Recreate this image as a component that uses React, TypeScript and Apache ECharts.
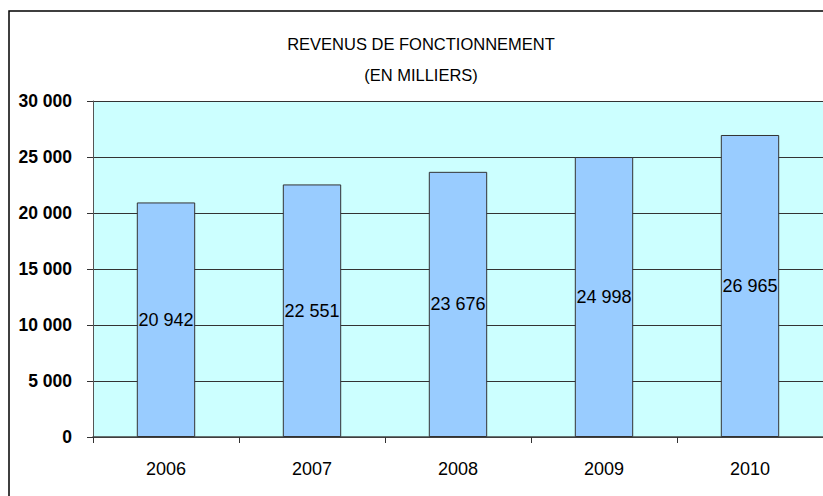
import React, { useEffect, useRef } from "react";
import * as echarts from "echarts";

const categories = ["2006", "2007", "2008", "2009", "2010"];
const revenus = [20942, 22551, 23676, 24998, 26965];
const titleLines = ["REVENUS DE FONCTIONNEMENT", "(EN MILLIERS)"];

const FONT = "'Liberation Sans', Arial, sans-serif";

const fmt = (v: number) => {
  const s = Math.round(v).toString();
  return s.replace(/\B(?=(\d{3})+(?!\d))/g, " ");
};

export default function App() {
  const ref = useRef<HTMLDivElement>(null);
  useEffect(() => {
    if (!ref.current) return;
    const chart = echarts.init(ref.current, null, { renderer: "svg" });
    chart.setOption({
      animation: false,
      backgroundColor: "#ffffff",
      grid: { left: 93, top: 101, bottom: 59, right: -5, show: true, backgroundColor: "#ccffff", borderWidth: 0 },
      graphic: [
        { type: "rect", shape: { x: 9, y: 11, width: 830, height: 500 }, style: { fill: "none", stroke: "#000", lineWidth: 1.5 }, silent: true, z: 100 },
        { type: "text", x: 421, y: 44, style: { text: titleLines[0], font: `16.5px ${FONT}`, fill: "#000", align: "center", verticalAlign: "middle" } },
        { type: "text", x: 421, y: 75, style: { text: titleLines[1], font: `16.5px ${FONT}`, fill: "#000", align: "center", verticalAlign: "middle" } },
      ],
      xAxis: {
        type: "category",
        data: categories,
        axisLine: { show: true, lineStyle: { color: "#444", width: 1.5 } },
        axisTick: { show: true, length: 6, lineStyle: { color: "#333" } },
        axisLabel: { color: "#000", fontFamily: FONT, fontSize: 18, margin: 23 },
      },
      yAxis: {
        type: "value",
        min: 0,
        max: 30000,
        interval: 5000,
        axisLine: { show: true, lineStyle: { color: "#555", width: 1 } },
        axisTick: { show: true, length: 6, lineStyle: { color: "#333" } },
        axisLabel: { color: "#000", fontFamily: FONT, fontSize: 17.5, fontWeight: "bold", margin: 21, formatter: (v: number) => fmt(v) },
        splitLine: { show: true, lineStyle: { color: "#333", width: 1 } },
      },
      series: [
        {
          type: "bar",
          data: revenus,
          barWidth: "40%",
          itemStyle: { color: "#99ccff", borderColor: "#333", borderWidth: 1 },
          label: {
            show: true,
            position: "inside",
            color: "#000",
            fontFamily: FONT,
            fontSize: 18,
            formatter: (p: any) => fmt(p.value),
          },
        },
      ],
    });
    return () => chart.dispose();
  }, []);
  return <div ref={ref} style={{ position: "fixed", left: 0, top: 0, width: 823, height: 496 }} />;
}
